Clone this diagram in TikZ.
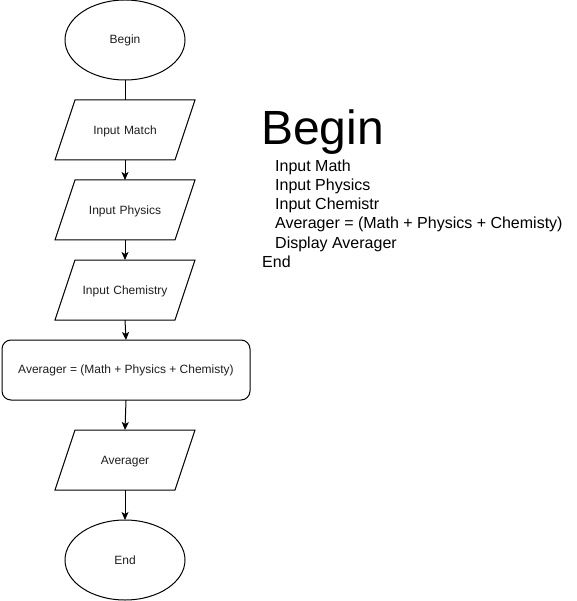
\documentclass[tikz,border=0pt]{standalone}
\usepackage{fontspec}
\setmainfont{Liberation Sans}
\usepackage{tikz}
\usetikzlibrary{shapes.geometric, arrows.meta}
\definecolor{fcLine}{RGB}{0, 0, 0}
\definecolor{fcText}{RGB}{30, 30, 30}
\tikzset{
    base/.style={
        font=\fontsize{12}{14}\selectfont,
        text=fcText,
        align=center,
        inner sep=0pt,
        outer sep=0pt
    },
    terminal/.style={
        base,
        ellipse,
        draw=fcLine,
        line width=1pt,
        minimum width=120pt,
        minimum height=80pt
    },
    io/.style={
        base,
        trapezium,
        trapezium left angle=71.565,
        trapezium right angle=108.435,
        draw=fcLine,
        line width=1pt,
        text width=100pt,
        text height=8.6pt,
        text depth=0pt,
        inner xsep=0pt,
        inner ysep=25.7pt
    },
    process/.style={
        base,
        rectangle,
        rounded corners=9pt,
        draw=fcLine,
        line width=1pt,
        minimum width=248pt,
        minimum height=60pt
    },
    flow/.style={
        -{Stealth[length=8pt, width=7pt, inset=2pt]},
        line width=1pt,
        color=fcLine
    },
    link/.style={
        line width=1pt,
        color=fcLine
    },
    code/.style={
        font=\fontsize{16}{19}\selectfont,
        anchor=base west,
        inner sep=0pt
    },
    title/.style={
        font=\fontsize{48}{54}\selectfont,
        anchor=base west,
        inner sep=0pt
    }
}

\begin{document}
\begin{tikzpicture}[x=1pt, y=-1pt]
  \useasboundingbox (0,0) rectangle (576,601);

  % Flowchart
  \node[terminal] (begin) at (125,40) {Begin};
  \node[io] (math) at (125,130) {Input Match};
  \node[io] (physics) at (125,210) {Input Physics};
  \node[io] (chem) at (125,290) {Input Chemistry};
  \node[process] (avg) at (126,370) {Averager = (Math + Physics + Chemisty)};
  \node[io] (show) at (125,460) {Averager};
  \node[terminal] (end) at (125,560) {End};

  % Connectors
  \draw[link] (begin.south) -- (math.north);
  \draw[flow] (math.south) -- (physics.north);
  \draw[flow] (physics.south) -- (chem.north);
  \draw[flow] (chem.south) -- (avg.north);
  \draw[flow] (avg.south) -- (show.north);
  \draw[flow] (show.south) -- (end.north);

  % Pseudo code
  \node[title] (tBegin) at (261,145) {Begin};
  \node[code] (tMath) at (275,172) {Input Math};
  \node[code] (tPhys) at (275,191) {Input Physics};
  \node[code] (tChem) at (275,210) {Input Chemistr};
  \node[code] (tAvg) at (275,229) {Averager = (Math + Physics + Chemisty)};
  \node[code] (tShow) at (275,248) {Display Averager};
  \node[code] (tEnd) at (262,267) {End};
\end{tikzpicture}
\end{document}
